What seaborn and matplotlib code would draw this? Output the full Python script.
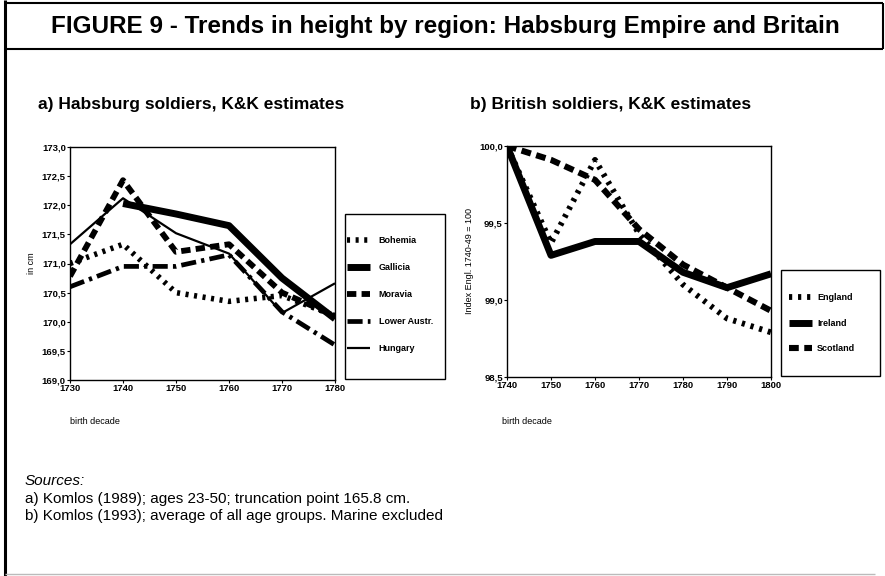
import numpy as np
import pandas as pd
import matplotlib
matplotlib.use("Agg")
import matplotlib.pyplot as plt
from matplotlib.lines import Line2D
from matplotlib.patches import Rectangle
from matplotlib.ticker import FuncFormatter, MultipleLocator
import seaborn as sns

# a) Habsburg soldiers, height in cm by birth decade
habsburg_decades = [1730, 1740, 1750, 1760, 1770, 1780]
bohemia = [171.0, 171.33, 170.5, 170.35, 170.45, 170.1]
galicia = [np.nan, 172.03, 171.85, 171.65, 170.75, 170.05]
moravia = [170.78, 172.43, 171.2, 171.33, 170.5, 170.1]
lower_austria = [170.6, 170.95, 170.95, 171.15, 170.17, 169.6]
hungary = [171.33, 172.12, 171.52, 171.17, 170.15, 170.66]

# b) British soldiers, index England 1740-49 = 100
british_decades = [1740, 1750, 1760, 1770, 1780, 1790, 1800]
england = [100.0, 99.37, 99.91, 99.43, 99.1, 98.88, 98.79]
ireland = [100.0, 99.29, 99.38, 99.38, 99.18, 99.08, 99.17]
scotland = [100.0, 99.91, 99.78, 99.46, 99.23, 99.08, 98.93]

title = "FIGURE 9 - Trends in height by region: Habsburg Empire and Britain"
sources = ["a) Komlos (1989); ages 23-50; truncation point 165.8 cm.",
           "b) Komlos (1993); average of all age groups. Marine excluded"]

sns.set_theme(style="white")
plt.rcParams['font.family'] = ['Liberation Sans', 'DejaVu Sans']
plt.rcParams.update({"text.color": "black", "axes.labelcolor": "black",
                     "xtick.color": "black", "ytick.color": "black",
                     "lines.solid_capstyle": "butt", "lines.dash_capstyle": "butt"})

df_a = pd.DataFrame({"decade": habsburg_decades, "Bohemia": bohemia, "Gallicia": galicia,
                     "Moravia": moravia, "Lower Austr.": lower_austria, "Hungary": hungary})
df_b = pd.DataFrame({"decade": british_decades, "England": england,
                     "Ireland": ireland, "Scotland": scotland})

# line style per series: (linestyle, linewidth)
styles_a = {"Bohemia": ((0, (0.55, 1.0)), 4.0),
            "Gallicia": ("-", 5.0),
            "Moravia": ((0, (1.6, 0.9)), 4.2),
            "Lower Austr.": ((0, (3.2, 1.1, 0.7, 1.1)), 3.4),
            "Hungary": ("-", 1.6)}
styles_b = {"England": ((0, (0.55, 1.0)), 4.2),
            "Ireland": ("-", 5.0),
            "Scotland": ((0, (1.6, 0.9)), 4.4)}

fig = plt.figure(figsize=(8.85, 5.76), dpi=100)
ax1 = fig.add_axes([70 / 885, 1 - 380 / 576, 265 / 885, 233 / 576])
ax2 = fig.add_axes([507 / 885, 1 - 377 / 576, 264 / 885, 231 / 576])

for ax, df, styles in [(ax1, df_a, styles_a), (ax2, df_b, styles_b)]:
    for name, (ls, lw) in styles.items():
        sns.lineplot(x="decade", y=name, data=df, ax=ax, color="black",
                     linestyle=ls, linewidth=lw, label=name)

comma = FuncFormatter(lambda v, p: f"{v:.1f}".replace(".", ","))

ax1.set_xlim(1730, 1780)
ax1.set_ylim(169, 173)
ax1.set_xticks(habsburg_decades)
ax1.yaxis.set_major_locator(MultipleLocator(0.5))
ax1.set_ylabel("in cm", fontsize=6.5, labelpad=4)

ax2.set_xlim(1740, 1800)
ax2.set_ylim(98.5, 100)
ax2.set_xticks(british_decades)
ax2.yaxis.set_major_locator(MultipleLocator(0.5))
ax2.set_ylabel("Index Engl. 1740-49 = 100", fontsize=6.5, labelpad=4)

for ax in (ax1, ax2):
    ax.yaxis.set_major_formatter(comma)
    ax.set_xlabel("")
    for s in ax.spines.values():
        s.set_color("black")
        s.set_linewidth(1.0)
    ax.tick_params(axis="both", labelsize=6.8, length=2, width=0.8, pad=1,
                   color="black", left=True, bottom=True)
    for lab in ax.get_xticklabels() + ax.get_yticklabels():
        lab.set_fontweight("bold")

# legends without frame, boxes drawn separately
leg_kw = dict(loc="upper left", fontsize=6.5, frameon=False, handlelength=2.5,
              borderpad=0, borderaxespad=0, bbox_transform=fig.transFigure)
leg1 = ax1.legend(bbox_to_anchor=(347 / 885, 1 - 236 / 576), labelspacing=2.0,
                  handletextpad=1.0, **leg_kw)
leg2 = ax2.legend(bbox_to_anchor=(789 / 885, 1 - 293 / 576), labelspacing=1.85,
                  handletextpad=0.6, **leg_kw)
for leg in (leg1, leg2):
    for t in leg.get_texts():
        t.set_fontweight("bold")

for x0, y0, x1, y1 in [(345, 214, 445, 379), (781, 270, 880, 376)]:
    fig.add_artist(Rectangle((x0 / 885, 1 - y1 / 576), (x1 - x0) / 885, (y1 - y0) / 576,
                             fill=False, edgecolor="black", linewidth=1.0,
                             transform=fig.transFigure))

# titles and notes
fig.text(445 / 885, 1 - 27 / 576, title, ha="center", va="center",
         fontsize=17.5, fontweight="bold")
fig.text(38 / 885, 1 - 104 / 576, "a) Habsburg soldiers, K&K estimates",
         ha="left", va="center", fontsize=12.5, fontweight="bold")
fig.text(470 / 885, 1 - 104 / 576, "b) British soldiers, K&K estimates",
         ha="left", va="center", fontsize=12.5, fontweight="bold")
fig.text(70 / 885, 1 - 422 / 576, "birth decade", ha="left", va="center", fontsize=6.5)
fig.text(502 / 885, 1 - 422 / 576, "birth decade", ha="left", va="center", fontsize=6.5)
fig.text(25 / 885, 1 - 481 / 576, "Sources:", ha="left", va="center",
         fontsize=11, style="italic")
for i, line in enumerate(sources):
    fig.text(25 / 885, 1 - (499 + 17 * i) / 576, line, ha="left", va="center",
             fontsize=11)

# page frame
frame = [((5, 5), (0, 576), 2.2, "black"),
         ((5, 883), (3, 3), 1.5, "black"),
         ((5, 883), (49, 49), 1.5, "black"),
         ((883, 883), (3, 49), 1.5, "black"),
         ((5, 875), (574, 574), 1.0, "#bbbbbb")]
for xs, ys, lw, col in frame:
    fig.add_artist(Line2D([x / 885 for x in xs], [1 - y / 576 for y in ys],
                          color=col, linewidth=lw, transform=fig.transFigure))

fig.savefig("out.png", dpi=100)
